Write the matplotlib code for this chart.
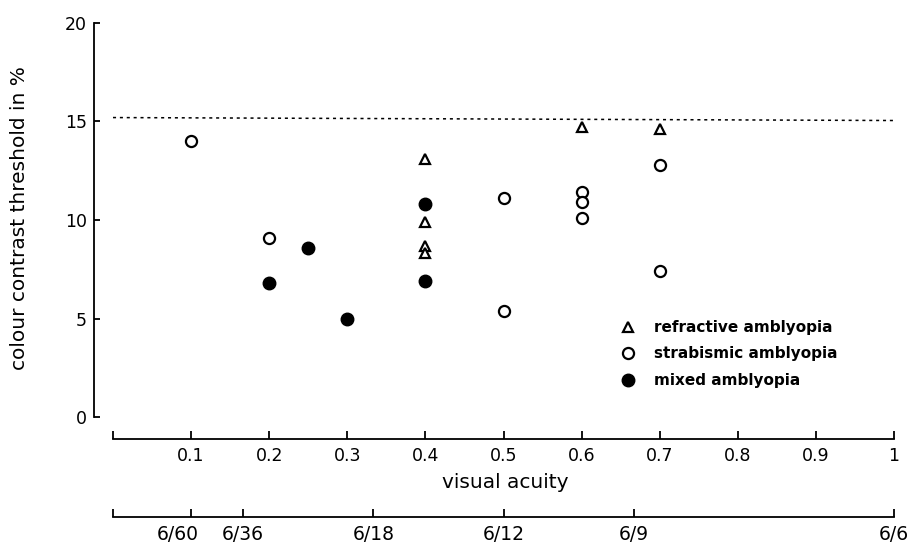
import numpy as np
import matplotlib
matplotlib.use('Agg')
import matplotlib.pyplot as plt
import matplotlib.transforms as mtransforms

# data
refr_x = [0.4, 0.4, 0.4, 0.4, 0.6, 0.7]
refr_y = [13.1, 9.9, 8.7, 8.3, 14.7, 14.6]

strab_x = [0.1, 0.2, 0.5, 0.5, 0.6, 0.6, 0.6, 0.7, 0.7]
strab_y = [14.0, 9.1, 11.1, 5.4, 11.4, 10.9, 10.1, 12.8, 7.4]

mixed_x = [0.2, 0.25, 0.3, 0.4, 0.4]
mixed_y = [6.8, 8.6, 5.0, 10.8, 6.9]

# upper limit of normal (dotted line)
norm_x = [0.0, 1.0]
norm_y = [15.2, 15.05]

acuity_ticks = np.round(np.arange(0, 1.01, 0.1), 1)
acuity_labels = [''] + ['0.1', '0.2', '0.3', '0.4', '0.5', '0.6', '0.7', '0.8', '0.9', '1']
snellen_labels = ['', '6/60', '6/36', '6/18', '6/12', '6/9', '6/6']
snellen_ticks = [0, 6/60, 6/36, 6/18, 6/12, 6/9, 6/6]

plt.rcParams['font.family'] = 'DejaVu Sans'
W, H = 913, 546
fig = plt.figure(figsize=(W/100, H/100), dpi=100)

def px(x0, y0, x1, y1):
    # pixel box (top-left origin) -> figure fraction rect
    return [x0/W, (H-y1)/H, (x1-x0)/W, (y1-y0)/H]

# x positions: 0 -> 113 px, 1 -> 894 px
x0p, x1p = 113, 894
sc = x1p - x0p
ax = fig.add_axes(px(94, 23, 900, 417))
ax.set_xlim((94-x0p)/sc, (900-x0p)/sc)
ax.set_ylim(0, 20)
for s in ['top', 'right', 'bottom']:
    ax.spines[s].set_visible(False)
ax.spines['left'].set_linewidth(1.3)
ax.set_xticks([])
ax.set_yticks([0, 5, 10, 15, 20])
ax.tick_params(axis='y', direction='in', length=4.5, width=1.3, pad=5, labelsize=12.5)

ax.plot(norm_x, norm_y, color='k', lw=1.1, ls=(0, (2, 2.5)))
ax.plot(refr_x, refr_y, '^', ms=7, mfc='white', mec='k', mew=1.6, ls='none', label='refractive amblyopia')
ax.plot(strab_x, strab_y, 'o', ms=8, mfc='white', mec='k', mew=1.6, ls='none', label='strabismic amblyopia')
ax.plot(mixed_x, mixed_y, 'o', ms=9, mfc='k', mec='k', ls='none', label='mixed amblyopia')

ax.legend(loc='upper left', bbox_to_anchor=(620/W, (H-320)/H), bbox_transform=fig.transFigure,
          frameon=False, borderpad=0, borderaxespad=0, handlelength=1.0, handletextpad=1.2,
          labelspacing=0.75, prop={'size': 11, 'weight': 'bold'})

# decimal acuity scale
ax2 = fig.add_axes(px(x0p, 429, x1p, 439))
ax2.set_xlim(0, 1)
for s in ['top', 'right', 'left']:
    ax2.spines[s].set_visible(False)
ax2.spines['bottom'].set_linewidth(1.3)
ax2.set_yticks([])
ax2.set_xticks(acuity_ticks)
ax2.set_xticklabels(acuity_labels)
ax2.tick_params(axis='x', direction='in', length=6, width=1.3, pad=6, labelsize=12.5)

fig.text(505/W, (H-483)/H, 'visual acuity', ha='center', va='center', fontsize=14.5)

# Snellen scale
ax3 = fig.add_axes(px(x0p, 507, x1p, 517))
ax3.set_xlim(0, 1)
for s in ['top', 'right', 'left']:
    ax3.spines[s].set_visible(False)
ax3.spines['bottom'].set_linewidth(1.3)
ax3.set_yticks([])
ax3.set_xticks(snellen_ticks)
ax3.set_xticklabels(snellen_labels)
ax3.tick_params(axis='x', direction='in', length=6, width=1.3, pad=6, labelsize=13.5)
lab = ax3.get_xticklabels()[1]
lab.set_transform(lab.get_transform() + mtransforms.ScaledTranslation(-13/100, 0, fig.dpi_scale_trans))

fig.text(20/W, (H-218)/H, 'colour contrast threshold in %', rotation=90,
         ha='center', va='center', fontsize=14.5)

plt.savefig('out.png', dpi=100)
